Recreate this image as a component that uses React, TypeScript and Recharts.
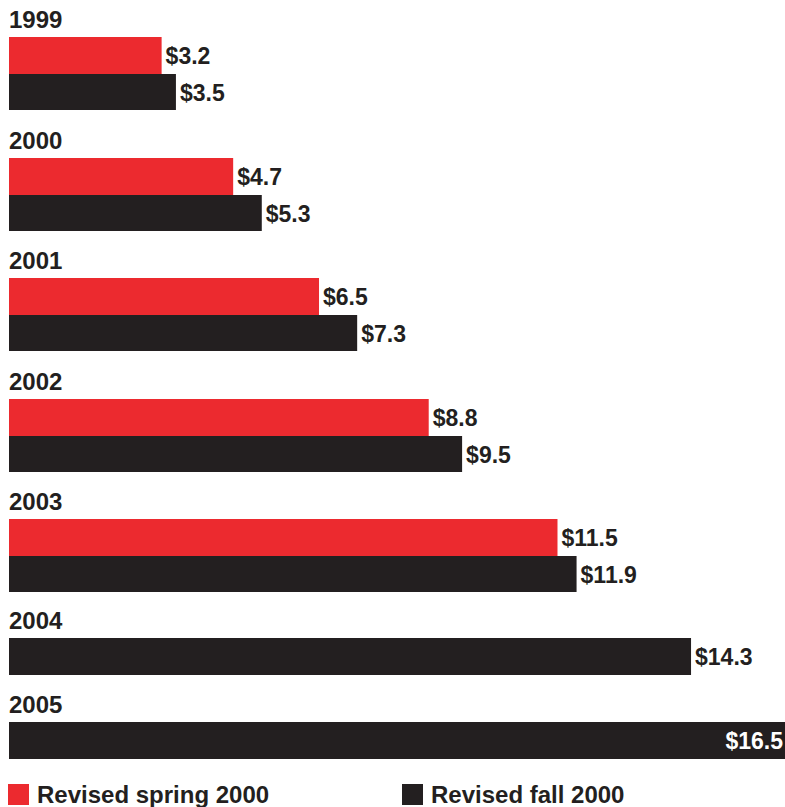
import React from 'react';
import { BarChart, Bar, XAxis, YAxis, LabelList } from 'recharts';

const years = ['1999', '2000', '2001', '2002', '2003', '2004', '2005'];
const springValues: (number | null)[] = [3.2, 4.7, 6.5, 8.8, 11.5, null, null];
const fallValues: number[] = [3.5, 5.3, 7.3, 9.5, 11.9, 14.3, 16.5];

const seriesNames = { spring: 'Revised spring 2000', fall: 'Revised fall 2000' };

const RED = '#ec2a2f';
const BLACK = '#231f20';
const FONT = '"Liberation Sans", Arial, sans-serif';

const CHART_W = 777;
const X_MAX = 16.27; // visible range, the 2005 bar runs off the right edge
const BAR_H = 36.5;

function ValueLabel(props: any) {
  const { x, y, width, height, value } = props;
  if (value == null) return null;
  const text = `$${Number(value).toFixed(1)}`;
  const end = Math.min(x + width, CHART_W);
  const inside = end + 4 + text.length * 13 > CHART_W;
  return (
    <text
      x={inside ? end - 2 : end + 4}
      y={y + height / 2}
      dominantBaseline="central"
      textAnchor={inside ? 'end' : 'start'}
      fill={inside ? '#fff' : BLACK}
      fontFamily={FONT}
      fontWeight="bold"
      fontSize={23}
    >
      {text}
    </text>
  );
}

function YearGroup({ index }: { index: number }) {
  const row = { year: years[index], spring: springValues[index], fall: fallValues[index] };
  const hasSpring = row.spring != null;
  const height = hasSpring ? BAR_H * 2 : BAR_H;
  const headH = index === 0 ? 29 : index === 5 ? 46 : 47.5;

  return (
    <div>
      <div
        style={{
          height: headH,
          display: 'flex',
          alignItems: 'flex-end',
          fontFamily: FONT,
          fontWeight: 'bold',
          fontSize: 24,
          lineHeight: '24px',
          color: BLACK,
          paddingLeft: 1,
          boxSizing: 'border-box',
          paddingBottom: 5,
        }}
      >
        {row.year}
      </div>
      <BarChart
        width={CHART_W}
        height={height}
        data={[row]}
        layout="vertical"
        margin={{ top: 0, right: 0, bottom: 0, left: 1 }}
        barCategoryGap={0}
        barGap={0}
      >
        <XAxis type="number" domain={[0, X_MAX]} allowDataOverflow hide />
        <YAxis type="category" dataKey="year" hide />
        {hasSpring && (
          <Bar dataKey="spring" name={seriesNames.spring} fill={RED} isAnimationActive={false}>
            <LabelList dataKey="spring" content={ValueLabel} />
          </Bar>
        )}
        <Bar dataKey="fall" name={seriesNames.fall} fill={BLACK} isAnimationActive={false}>
          <LabelList dataKey="fall" content={ValueLabel} />
        </Bar>
      </BarChart>
    </div>
  );
}

function LegendItem({ color, label, width }: { color: string; label: string; width: number }) {
  return (
    <div style={{ display: 'flex', alignItems: 'flex-end', width }}>
      <div style={{ width: 21, height: 21, background: color, marginRight: 8 }} />
      <span
        style={{
          fontFamily: FONT,
          fontWeight: 'bold',
          fontSize: 24,
          lineHeight: '21px',
          color: BLACK,
        }}
      >
        {label}
      </span>
    </div>
  );
}

export default function App() {
  return (
    <div
      style={{
        position: 'absolute',
        left: 0,
        top: 0,
        width: 785,
        height: 807,
        overflow: 'hidden',
        background: '#fff',
        padding: '8px 0 0 8px',
        boxSizing: 'border-box',
      }}
    >
      <div style={{ width: CHART_W }}>
        {years.map((y, i) => (
          <YearGroup key={y} index={i} />
        ))}
        <div style={{ display: 'flex', marginTop: 25 }}>
          <LegendItem color={RED} label={seriesNames.spring} width={394} />
          <LegendItem color={BLACK} label={seriesNames.fall} width={300} />
        </div>
      </div>
    </div>
  );
}
